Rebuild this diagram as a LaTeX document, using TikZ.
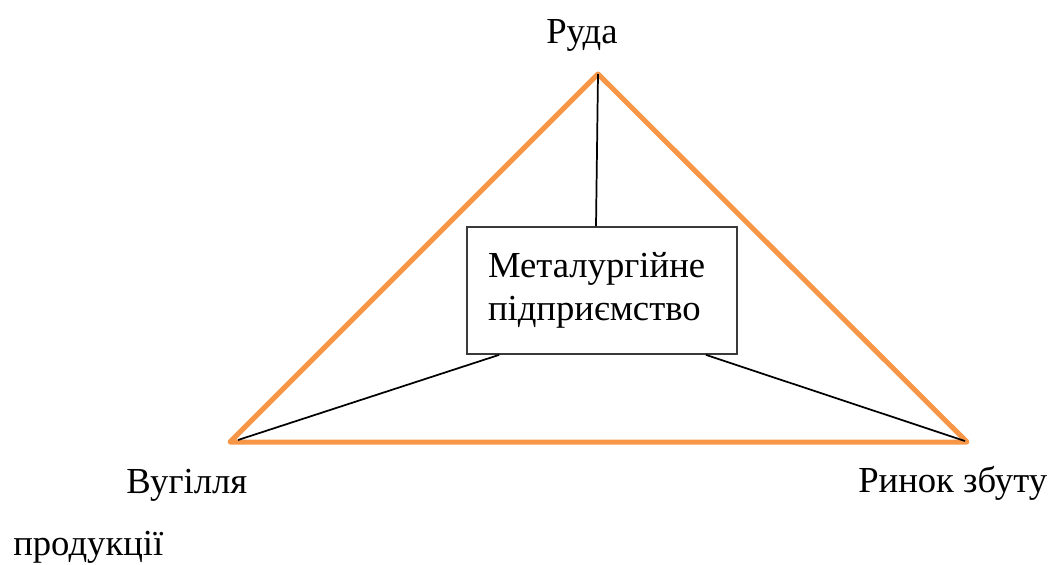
\documentclass[tikz,border=0pt]{standalone}
\usepackage{fontspec}
\setmainfont[Script=Cyrillic]{Liberation Serif}
\usepackage{xcolor}
\usetikzlibrary{calc}
\definecolor{trioorange}{HTML}{F79646}
\definecolor{trioframe}{HTML}{3A3A3A}
\newcommand{\trifont}{\fontsize{27.5}{32}\selectfont}

\begin{document}
\begin{tikzpicture}[x=0.75pt,y=-0.75pt,
  side/.style={draw=trioorange,line width=3.75pt,line join=round,line cap=round},
  link/.style={draw=black,line width=1.3pt},
  place/.style={anchor=base west,inner sep=0pt,font=\trifont},
  plant/.style={rectangle,draw=trioframe,line width=1.3pt,fill=white,
                text width=171pt,inner xsep=15.75pt,inner ysep=0pt,
                minimum height=95.25pt,align=left,font=\trifont}]

  \useasboundingbox (0,0) rectangle (1052,564);

  % corners of the triangle
  \coordinate (ore) at (598,74);
  \coordinate (coal) at (230,442);
  \coordinate (market) at (967,442);

  \draw[side] (ore) -- (coal) -- (market) -- cycle;

  \node[plant] (works) at (602,290.5) {Металургійне\\підприємство};

  \draw[link] (ore) -- ($(works.north)+(-6,0)$);
  \draw[link] ($(coal)+(8,-2)$) -- ($(works.south west)+(33,0)$);
  \draw[link] ($(market)+(-2,-1)$) -- ($(works.south east)+(-32,0)$);

  \node[place] (oreLbl) at (546,43) {Руда};
  \node[place] (coalLbl) at (126,493) {Вугілля};
  \node[place] (marketLbl) at (858,492) {Ринок збуту};
  \node[place] (marketLbl2) at (13,555) {продукції};

\end{tikzpicture}
\end{document}
